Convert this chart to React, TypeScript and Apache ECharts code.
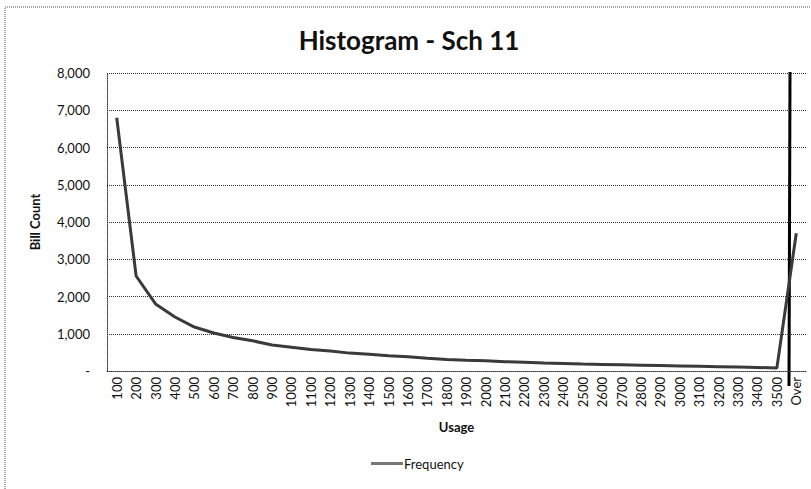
import React, { useEffect, useRef } from "react";
import * as echarts from "echarts";

const categories = [
  "100", "200", "300", "400", "500", "600", "700", "800", "900", "1000",
  "1100", "1200", "1300", "1400", "1500", "1600", "1700", "1800", "1900", "2000",
  "2100", "2200", "2300", "2400", "2500", "2600", "2700", "2800", "2900", "3000",
  "3100", "3200", "3300", "3400", "3500", "Over",
];
const frequency = [
  6800, 2550, 1800, 1450, 1180, 1020, 900, 810, 700, 640,
  580, 540, 480, 450, 410, 380, 340, 310, 290, 275,
  250, 235, 215, 200, 185, 175, 165, 155, 145, 135,
  125, 115, 105, 95, 80, 3700,
];
const yTicks = { min: 0, max: 8000, interval: 1000 };

const FONT = "Lato";

export default function App() {
  const ref = useRef<HTMLDivElement>(null);
  useEffect(() => {
    document.body.style.margin = "0";
    const chart = echarts.init(ref.current!, null, { renderer: "svg" });
    chart.setOption({
      animation: false,
      backgroundColor: "#ffffff",
      title: {
        text: "Histogram - Sch 11",
        left: 404,
        textAlign: "center",
        top: 22,
        textStyle: { fontFamily: FONT, fontSize: 26, fontWeight: "bold", color: "#111" },
      },
      legend: {
        bottom: 14,
        left: 366,
        itemWidth: 32,
        itemHeight: 3,
        icon: "rect",
        itemGap: 2,
        textStyle: { fontFamily: FONT, fontSize: 13, color: "#111", padding: [0, 0, 0, -4] },
        data: [{ name: "Frequency", itemStyle: { color: "#777" } }],
      },
      grid: { left: 107, right: 5, top: 73, bottom: 118 },
      xAxis: {
        type: "category",
        data: categories,
        boundaryGap: true,
        name: "Usage",
        nameLocation: "middle",
        nameGap: 49,
        nameTextStyle: { fontFamily: FONT, fontSize: 13, fontWeight: "bold", color: "#111" },
        axisLine: { lineStyle: { color: "#333", type: "dotted", width: 1 } },
        axisTick: { show: false },
        axisLabel: {
          rotate: 90,
          interval: 0,
          margin: 6,
          fontFamily: FONT,
          fontSize: 13,
          color: "#111",
        },
      },
      yAxis: {
        type: "value",
        min: yTicks.min,
        max: yTicks.max,
        interval: yTicks.interval,
        name: "Bill Count",
        nameLocation: "middle",
        nameGap: 66,
        nameTextStyle: { fontFamily: FONT, fontSize: 13, fontWeight: "bold", color: "#111" },
        axisLine: { show: true, lineStyle: { color: "#333", type: "dotted", width: 1 } },
        axisTick: { show: false },
        splitLine: { lineStyle: { color: "#333", type: "dotted", width: 1 } },
        axisLabel: {
          margin: 17,
          fontFamily: FONT,
          fontSize: 13,
          color: "#111",
          formatter: (v: number) => (v === 0 ? "-" : v.toLocaleString("en-US")),
        },
      },
      series: [
        {
          name: "Frequency",
          type: "line",
          data: frequency,
          symbol: "none",
          lineStyle: { color: "#3a3a3a", width: 3 },
          itemStyle: { color: "#777" },
        },
      ],
      graphic: [
        {
          type: "rect",
          shape: { x: 5, y: 7, width: 830, height: 500 },
          style: { fill: "none", stroke: "#555", lineWidth: 1, lineDash: [1, 1] },
          silent: true,
        },
        {
          type: "line",
          shape: { x1: 790, y1: 72, x2: 789, y2: 386 },
          style: { stroke: "#000", lineWidth: 3 },
          silent: true,
        },
      ],
    });
    return () => chart.dispose();
  }, []);
  return <div ref={ref} style={{ width: 811, height: 489 }} />;
}
